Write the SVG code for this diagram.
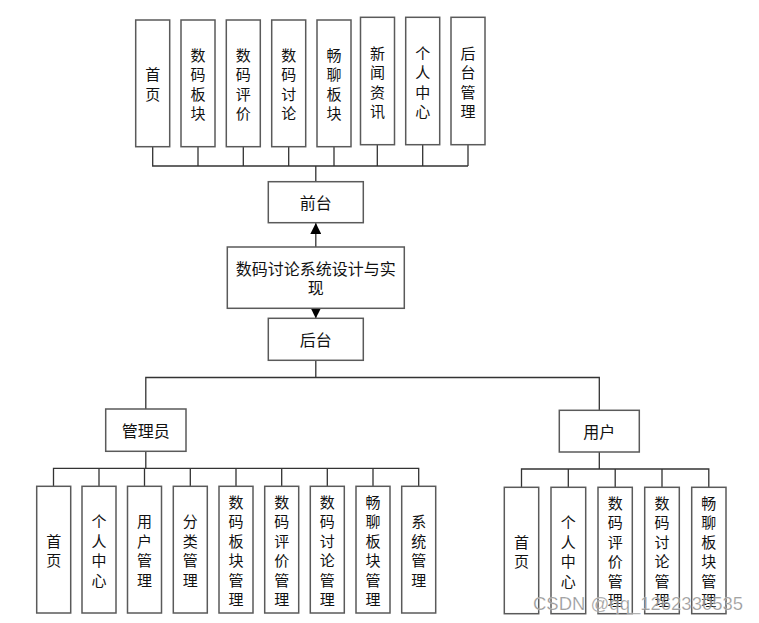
<svg xmlns="http://www.w3.org/2000/svg" width="759" height="623" viewBox="0 0 759 623">
<style>
.b{fill:#fff;stroke:#5a5a5a;stroke-width:1.5}
.t{font-family:"Noto Sans CJK SC","Noto Sans CJK JP",sans-serif;font-size:15px;fill:#111;text-anchor:middle;dominant-baseline:central}
.h{font-size:16px}
.c{fill:none;stroke:#333;stroke-width:1.3}
</style>
<defs>
<marker id="ah" viewBox="0 0 10 10" refX="10" refY="5" markerWidth="11" markerHeight="11" markerUnits="userSpaceOnUse" orient="auto"><path d="M0,0L10,5L0,10z" fill="#000"/></marker>
</defs>
<rect width="759" height="623" fill="#fff"/>
<g id="connectors">
<path class="c" d="M152.7,146.7V166H468M198,146.7V166M243.3,146.7V166M288.7,146.7V166M334,146.7V166M377.3,144.7V166M422.7,144.7V166M468,144.7V166M315.8,166V181.7"/>
<path class="c" stroke-width="2" stroke="#000" d="M315.8,247V223" marker-end="url(#ah)"/>
<path class="c" stroke-width="2" stroke="#000" d="M315.8,308.3V318.3" marker-end="url(#ah)"/>
<path class="c" d="M315.8,360.3V377.5M145.8,409V377.5H599.3V410.3"/>
<path class="c" stroke-width="2" stroke="#000" d="M145.8,451.3V468.3"/>
<path class="c" d="M53.5,486.3V468.3H418.7V486.3M99,468.3V486.3M144.5,468.3V486.3M190.3,468.3V486.3M236,468.3V486.3M281.7,468.3V486.3M327.3,468.3V486.3M373,468.3V486.3"/>
<path class="c" d="M599.3,452V469M521.5,487.3V469H708.8V487.3M568.3,469V487.3M615.2,469V487.3M662,469V487.3"/>
</g>
<g id="f1"><rect class="b" x="135.7" y="20" width="34" height="126.7"/><text class="t" x="152.7"><tspan x="152.7" y="73">首</tspan><tspan x="152.7" y="92.5">页</tspan></text></g>
<g id="f2"><rect class="b" x="181" y="20" width="34" height="126.7"/><text class="t"><tspan x="198" y="53.5">数</tspan><tspan x="198" y="73">码</tspan><tspan x="198" y="92.5">板</tspan><tspan x="198" y="112">块</tspan></text></g>
<g id="f3"><rect class="b" x="226.3" y="20" width="34" height="126.7"/><text class="t"><tspan x="243.3" y="53.5">数</tspan><tspan x="243.3" y="73">码</tspan><tspan x="243.3" y="92.5">评</tspan><tspan x="243.3" y="112">价</tspan></text></g>
<g id="f4"><rect class="b" x="271.7" y="20" width="34" height="126.7"/><text class="t"><tspan x="288.7" y="53.5">数</tspan><tspan x="288.7" y="73">码</tspan><tspan x="288.7" y="92.5">讨</tspan><tspan x="288.7" y="112">论</tspan></text></g>
<g id="f5"><rect class="b" x="317" y="20" width="34" height="126.7"/><text class="t"><tspan x="334" y="53.5">畅</tspan><tspan x="334" y="73">聊</tspan><tspan x="334" y="92.5">板</tspan><tspan x="334" y="112">块</tspan></text></g>
<g id="f6"><rect class="b" x="360.5" y="17.3" width="34" height="127.4"/><text class="t"><tspan x="377.5" y="51.5">新</tspan><tspan x="377.5" y="71">闻</tspan><tspan x="377.5" y="90.5">资</tspan><tspan x="377.5" y="110">讯</tspan></text></g>
<g id="f7"><rect class="b" x="405.7" y="17.3" width="34" height="127.4"/><text class="t"><tspan x="422.7" y="51.5">个</tspan><tspan x="422.7" y="71">人</tspan><tspan x="422.7" y="90.5">中</tspan><tspan x="422.7" y="110">心</tspan></text></g>
<g id="f8"><rect class="b" x="451" y="17.3" width="34" height="127.4"/><text class="t"><tspan x="468" y="51.5">后</tspan><tspan x="468" y="71">台</tspan><tspan x="468" y="90.5">管</tspan><tspan x="468" y="110">理</tspan></text></g>
<g id="qiantai"><rect class="b" x="268.3" y="181.7" width="95" height="41"/><text class="t h" x="315.8" y="201.5">前台</text></g>
<g id="main"><rect class="b" x="227.3" y="247" width="177" height="61.3"/><text class="t h"><tspan x="315.8" y="267.5">数码讨论系统设计与实</tspan><tspan x="315.8" y="286.5">现</tspan></text></g>
<g id="houtai"><rect class="b" x="268.3" y="318.3" width="95" height="42"/><text class="t h" x="315.8" y="338.5">后台</text></g>
<g id="admin"><rect class="b" x="105.7" y="409" width="80.3" height="42.3"/><text class="t h" x="145.8" y="429.5">管理员</text></g>
<g id="user"><rect class="b" x="559.3" y="410.3" width="80" height="41.7"/><text class="t h" x="599.3" y="430.5">用户</text></g>
<g id="a1"><rect class="b" x="36.7" y="486.3" width="34" height="126.7"/><text class="t"><tspan x="53.7" y="539.5">首</tspan><tspan x="53.7" y="559">页</tspan></text></g>
<g id="a2"><rect class="b" x="82" y="486.3" width="34" height="126.7"/><text class="t"><tspan x="99" y="520">个</tspan><tspan x="99" y="539.5">人</tspan><tspan x="99" y="559">中</tspan><tspan x="99" y="578.5">心</tspan></text></g>
<g id="a3"><rect class="b" x="127.5" y="486.3" width="34" height="126.7"/><text class="t"><tspan x="144.5" y="520">用</tspan><tspan x="144.5" y="539.5">户</tspan><tspan x="144.5" y="559">管</tspan><tspan x="144.5" y="578.5">理</tspan></text></g>
<g id="a4"><rect class="b" x="173.3" y="486.3" width="34" height="126.7"/><text class="t"><tspan x="190.3" y="520">分</tspan><tspan x="190.3" y="539.5">类</tspan><tspan x="190.3" y="559">管</tspan><tspan x="190.3" y="578.5">理</tspan></text></g>
<g id="a5"><rect class="b" x="219" y="486.3" width="34" height="126.7"/><text class="t"><tspan x="236" y="500.5">数</tspan><tspan x="236" y="520">码</tspan><tspan x="236" y="539.5">板</tspan><tspan x="236" y="559">块</tspan><tspan x="236" y="578.5">管</tspan><tspan x="236" y="598">理</tspan></text></g>
<g id="a6"><rect class="b" x="264.7" y="486.3" width="34" height="126.7"/><text class="t"><tspan x="281.7" y="500.5">数</tspan><tspan x="281.7" y="520">码</tspan><tspan x="281.7" y="539.5">评</tspan><tspan x="281.7" y="559">价</tspan><tspan x="281.7" y="578.5">管</tspan><tspan x="281.7" y="598">理</tspan></text></g>
<g id="a7"><rect class="b" x="310.3" y="486.3" width="34" height="126.7"/><text class="t"><tspan x="327.3" y="500.5">数</tspan><tspan x="327.3" y="520">码</tspan><tspan x="327.3" y="539.5">讨</tspan><tspan x="327.3" y="559">论</tspan><tspan x="327.3" y="578.5">管</tspan><tspan x="327.3" y="598">理</tspan></text></g>
<g id="a8"><rect class="b" x="356" y="486.3" width="34" height="126.7"/><text class="t"><tspan x="373" y="500.5">畅</tspan><tspan x="373" y="520">聊</tspan><tspan x="373" y="539.5">板</tspan><tspan x="373" y="559">块</tspan><tspan x="373" y="578.5">管</tspan><tspan x="373" y="598">理</tspan></text></g>
<g id="a9"><rect class="b" x="401.7" y="486.3" width="34" height="126.7"/><text class="t"><tspan x="418.7" y="520">系</tspan><tspan x="418.7" y="539.5">统</tspan><tspan x="418.7" y="559">管</tspan><tspan x="418.7" y="578.5">理</tspan></text></g>
<g id="u1"><rect class="b" x="504.3" y="487.3" width="34.4" height="126.4"/><text class="t"><tspan x="521.5" y="540.5">首</tspan><tspan x="521.5" y="560">页</tspan></text></g>
<g id="u2"><rect class="b" x="551" y="487.3" width="34.7" height="126.4"/><text class="t"><tspan x="568.3" y="521">个</tspan><tspan x="568.3" y="540.5">人</tspan><tspan x="568.3" y="560">中</tspan><tspan x="568.3" y="579.5">心</tspan></text></g>
<g id="u3"><rect class="b" x="598" y="487.3" width="34.3" height="126.4"/><text class="t"><tspan x="615.2" y="501.5">数</tspan><tspan x="615.2" y="521">码</tspan><tspan x="615.2" y="540.5">评</tspan><tspan x="615.2" y="560">价</tspan><tspan x="615.2" y="579.5">管</tspan><tspan x="615.2" y="599">理</tspan></text></g>
<g id="u4"><rect class="b" x="644.7" y="487.3" width="34.6" height="126.4"/><text class="t"><tspan x="662" y="501.5">数</tspan><tspan x="662" y="521">码</tspan><tspan x="662" y="540.5">讨</tspan><tspan x="662" y="560">论</tspan><tspan x="662" y="579.5">管</tspan><tspan x="662" y="599">理</tspan></text></g>
<g id="u5"><rect class="b" x="691.7" y="487.3" width="34.3" height="126.4"/><text class="t"><tspan x="708.8" y="501.5">畅</tspan><tspan x="708.8" y="521">聊</tspan><tspan x="708.8" y="540.5">板</tspan><tspan x="708.8" y="560">块</tspan><tspan x="708.8" y="579.5">管</tspan><tspan x="708.8" y="599">理</tspan></text></g>
<text x="533" y="610" font-family="Liberation Sans, Arial, sans-serif" font-size="18.5" fill="#808080" fill-opacity="0.85" stroke="#fff" stroke-opacity="0.5" stroke-width="0.6">CSDN @qq_1262330535</text>
</svg>
